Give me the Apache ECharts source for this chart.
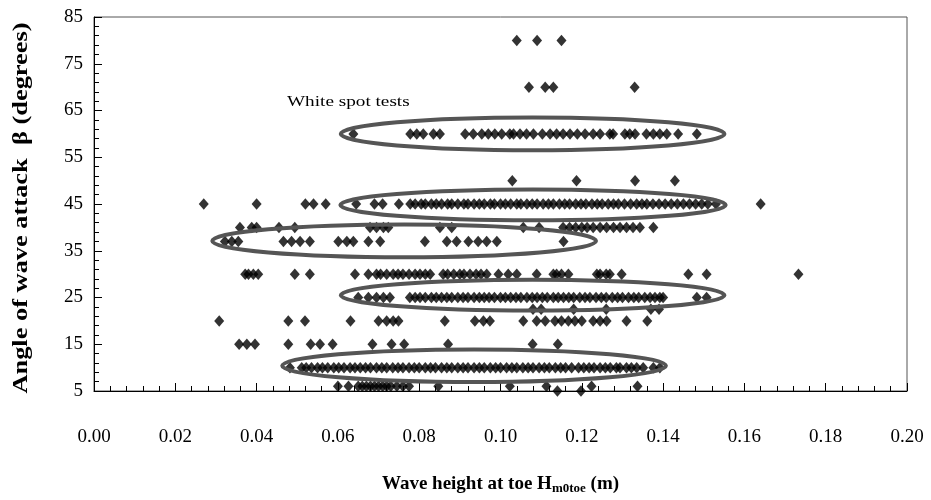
<!DOCTYPE html>
<html>
<head>
<meta charset="utf-8">
<script src="https://cdn.jsdelivr.net/npm/echarts@6/dist/echarts.min.js"></script>
<style>
  html, body { margin: 0; padding: 0; background: #fff; }
  #main { width: 931px; height: 500px; }
</style>
</head>
<body>
<div id="main"></div>
<script>
// x values (wave height, m) for each angle row
var angles = [80, 70, 60, 50, 45, 40, 37, 30, 25, 22.5, 20, 15, 10, 6, 5];
var row80 = [0.104, 0.109, 0.115];
var row70 = [0.107, 0.111, 0.113, 0.133];
var row60 = [0.0638, 0.0778, 0.0794, 0.081, 0.0835, 0.0851, 0.0913, 0.0933, 0.0954, 0.097, 0.0986, 0.1003,
  0.1023, 0.1032, 0.1048, 0.1064, 0.1081, 0.1103, 0.1122, 0.1138, 0.1154, 0.1171, 0.1189, 0.1208, 0.1228,
  0.1245, 0.1269, 0.1277, 0.1306, 0.1318, 0.1331, 0.1359, 0.1376, 0.1392, 0.1409, 0.1437, 0.1483];
var row50 = [0.1029, 0.1187, 0.1331, 0.1429];
var row45 = [0.027, 0.040, 0.052, 0.054, 0.057, 0.0645, 0.069, 0.071, 0.075,
  0.0778, 0.079, 0.0805, 0.0815, 0.083, 0.0842, 0.0855, 0.087, 0.088, 0.0895, 0.091, 0.092, 0.0935, 0.0948,
  0.096, 0.0975, 0.0985, 0.1, 0.1012, 0.1025, 0.104, 0.105, 0.1065, 0.1078, 0.109, 0.1105, 0.1118, 0.113,
  0.1145, 0.1158, 0.117, 0.1185, 0.1198, 0.121, 0.1225, 0.1238, 0.125, 0.1265, 0.1278, 0.129, 0.1305, 0.132,
  0.1335, 0.1348, 0.136, 0.1375, 0.139, 0.1405, 0.142, 0.1435, 0.145, 0.1465, 0.148, 0.1495, 0.151, 0.153, 0.164];
var row40 = [0.0359, 0.0388, 0.040, 0.0455, 0.0494, 0.0679, 0.0695, 0.0712, 0.0724, 0.0851, 0.088, 0.1056,
  0.1095, 0.1154, 0.117, 0.1185, 0.12, 0.1213, 0.1228, 0.1245, 0.1261, 0.1278, 0.1294, 0.131, 0.1326, 0.1343, 0.1376];
var row37 = [0.0322, 0.0339, 0.0355, 0.0466, 0.0486, 0.0507, 0.0531, 0.0601, 0.0622, 0.0638, 0.0675, 0.0704,
  0.0814, 0.0868, 0.0892, 0.0921, 0.0945, 0.0966, 0.0991, 0.1155];
var row30 = [0.0372, 0.038, 0.0392, 0.0404, 0.0494, 0.0531, 0.0642, 0.0675, 0.0695, 0.0705, 0.072, 0.0736,
  0.0748, 0.076, 0.0775, 0.079, 0.0802, 0.0815, 0.0827, 0.0859, 0.087, 0.0885, 0.09, 0.091, 0.0925, 0.094,
  0.0952, 0.0966, 0.0995, 0.1019, 0.104, 0.1089, 0.113, 0.1138, 0.115, 0.1167, 0.1237, 0.1245, 0.126, 0.1269,
  0.1298, 0.1462, 0.1507, 0.1733];
var row25 = [0.065, 0.0675, 0.0695, 0.0712, 0.0728, 0.0777, 0.079, 0.0802, 0.0815, 0.083, 0.0842, 0.0855,
  0.0868, 0.088, 0.0895, 0.0908, 0.092, 0.0935, 0.0948, 0.096, 0.0972, 0.0985, 0.1, 0.1012, 0.1025, 0.1038,
  0.105, 0.1065, 0.1078, 0.109, 0.1103, 0.1115, 0.113, 0.1142, 0.1155, 0.1168, 0.118, 0.1195, 0.1208, 0.122,
  0.1235, 0.1248, 0.126, 0.1275, 0.1288, 0.13, 0.1315, 0.1328, 0.134, 0.1355, 0.1368, 0.138, 0.1392, 0.14,
  0.1483, 0.1507];
var row22 = [0.108, 0.110, 0.118, 0.126, 0.137, 0.139];
var row20 = [0.0308, 0.0478, 0.0519, 0.0631, 0.070, 0.072, 0.0736, 0.0749, 0.0863, 0.0937, 0.0958, 0.0974,
  0.1056, 0.1089, 0.111, 0.1134, 0.115, 0.1167, 0.1183, 0.12, 0.1228, 0.1245, 0.1261, 0.131, 0.1361];
var row15 = [0.0357, 0.0376, 0.0396, 0.0478, 0.0533, 0.0556, 0.0587, 0.0685, 0.0732, 0.0763, 0.0871, 0.1079, 0.1141];
var row10 = [0.0482, 0.0511, 0.0522, 0.0535, 0.055, 0.0562, 0.0575, 0.059, 0.0602, 0.0615, 0.063, 0.0642,
  0.0655, 0.0668, 0.068, 0.0695, 0.0708, 0.072, 0.0735, 0.0748, 0.076, 0.0775, 0.0788, 0.08, 0.0815, 0.0828,
  0.084, 0.0855, 0.0868, 0.088, 0.0895, 0.0908, 0.092, 0.0935, 0.0948, 0.096, 0.0975, 0.0988, 0.1, 0.1015,
  0.1028, 0.104, 0.1055, 0.1068, 0.108, 0.1095, 0.1108, 0.112, 0.1135, 0.1148, 0.116, 0.1175, 0.1192, 0.1205,
  0.1218, 0.123, 0.1245, 0.1258, 0.127, 0.1285, 0.1294, 0.131, 0.1322, 0.1335, 0.1351, 0.1376, 0.1392];
var row6 = [0.060, 0.0626, 0.065, 0.066, 0.067, 0.068, 0.069, 0.070, 0.071, 0.072, 0.073, 0.0745, 0.076,
  0.0775, 0.0847, 0.1023, 0.1113, 0.1224, 0.1337];
var row5 = [0.114, 0.1198];
var rows = [row80, row70, row60, row50, row45, row40, row37, row30, row25, row22, row20, row15, row10, row6, row5];

// ellipses drawn round the test groups: centre x, centre y, radius x, radius y
var ellipses = [
  [0.1079, 60, 0.0472, 3.5],
  [0.108, 44.8, 0.0474, 3.3],
  [0.0763, 37.1, 0.0472, 3.5],
  [0.1079, 25.5, 0.0472, 3.3],
  [0.0935, 10.4, 0.0472, 3.5]
];

var points = [];
for (var i = 0; i < angles.length; i++) {
  for (var j = 0; j < rows[i].length; j++) {
    points.push([rows[i][j], angles[i]]);
  }
}

var serif = '"Liberation Serif", "Times New Roman", serif';
var myChart = echarts.init(document.getElementById('main'), null, { renderer: 'canvas' });

var option = {
  animation: false,
  backgroundColor: '#fff',
  grid: { left: 94, right: 24, top: 17, bottom: 108, show: true, borderColor: '#555', borderWidth: 1 },
  xAxis: {
    type: 'value', min: 0, max: 0.2, interval: 0.02,
    name: '{a|Wave height at toe H}{s|m0toe}{a| (m)}',
    nameLocation: 'middle', nameGap: 82,
    nameTextStyle: {
      rich: {
        a: { fontFamily: serif, fontWeight: 'bold', fontSize: 19, color: '#000', lineHeight: 22 },
        s: { fontFamily: serif, fontWeight: 'bold', fontSize: 13, color: '#000', lineHeight: 22, padding: [9, 0, 0, 0] }
      }
    },
    axisLine: { lineStyle: { color: '#000', width: 1 } },
    axisTick: { inside: true, length: 8, lineStyle: { color: '#000' } },
    minorTick: { show: true, splitNumber: 5, length: 5, lineStyle: { color: '#000' } },
    splitLine: { show: false },
    axisLabel: {
      margin: 37, fontFamily: serif, fontSize: 19, color: '#000',
      formatter: function (v) { return v.toFixed(2); }
    }
  },
  yAxis: {
    type: 'value', min: 5, max: 85, interval: 10,
    axisLine: { show: true, lineStyle: { color: '#000', width: 1 } },
    axisTick: { show: true, inside: true, length: 8, lineStyle: { color: '#000' } },
    minorTick: { show: true, splitNumber: 5, length: 5, lineStyle: { color: '#000' } },
    splitLine: { show: false },
    axisLabel: { margin: 11, fontFamily: serif, fontSize: 19, color: '#000' }
  },
  graphic: [
    {
      // y axis title, stretched along its length like the reference
      type: 'text', x: 21, y: 208, rotation: Math.PI / 2, scaleX: 1.2, silent: true,
      style: {
        text: 'Angle of wave attack  β (degrees)', font: 'bold 22px ' + serif, fill: '#000',
        textAlign: 'center', textVerticalAlign: 'middle'
      }
    },
    {
      type: 'text', x: 287, y: 95, scaleX: 1.28, silent: true,
      style: { text: 'White spot tests', font: '15px ' + serif, fill: '#000', textAlign: 'left', textVerticalAlign: 'top' }
    }
  ],
  series: [
    {
      type: 'scatter',
      data: points,
      symbol: 'diamond',
      symbolSize: [10, 11.5],
      itemStyle: { color: '#000' },
      z: 2
    },
    {
      type: 'custom',
      data: ellipses,
      silent: true,
      z: 3,
      encode: { x: 0, y: 1 },
      renderItem: function (params, api) {
        var c = api.coord([api.value(0), api.value(1)]);
        var s = api.size([api.value(2), api.value(3)]);
        return {
          type: 'ellipse',
          shape: { cx: c[0], cy: c[1], rx: s[0], ry: s[1] },
          style: { fill: null, stroke: '#555', lineWidth: 4 }
        };
      }
    }
  ]
};

myChart.setOption(option, true);
</script>
</body>
</html>
